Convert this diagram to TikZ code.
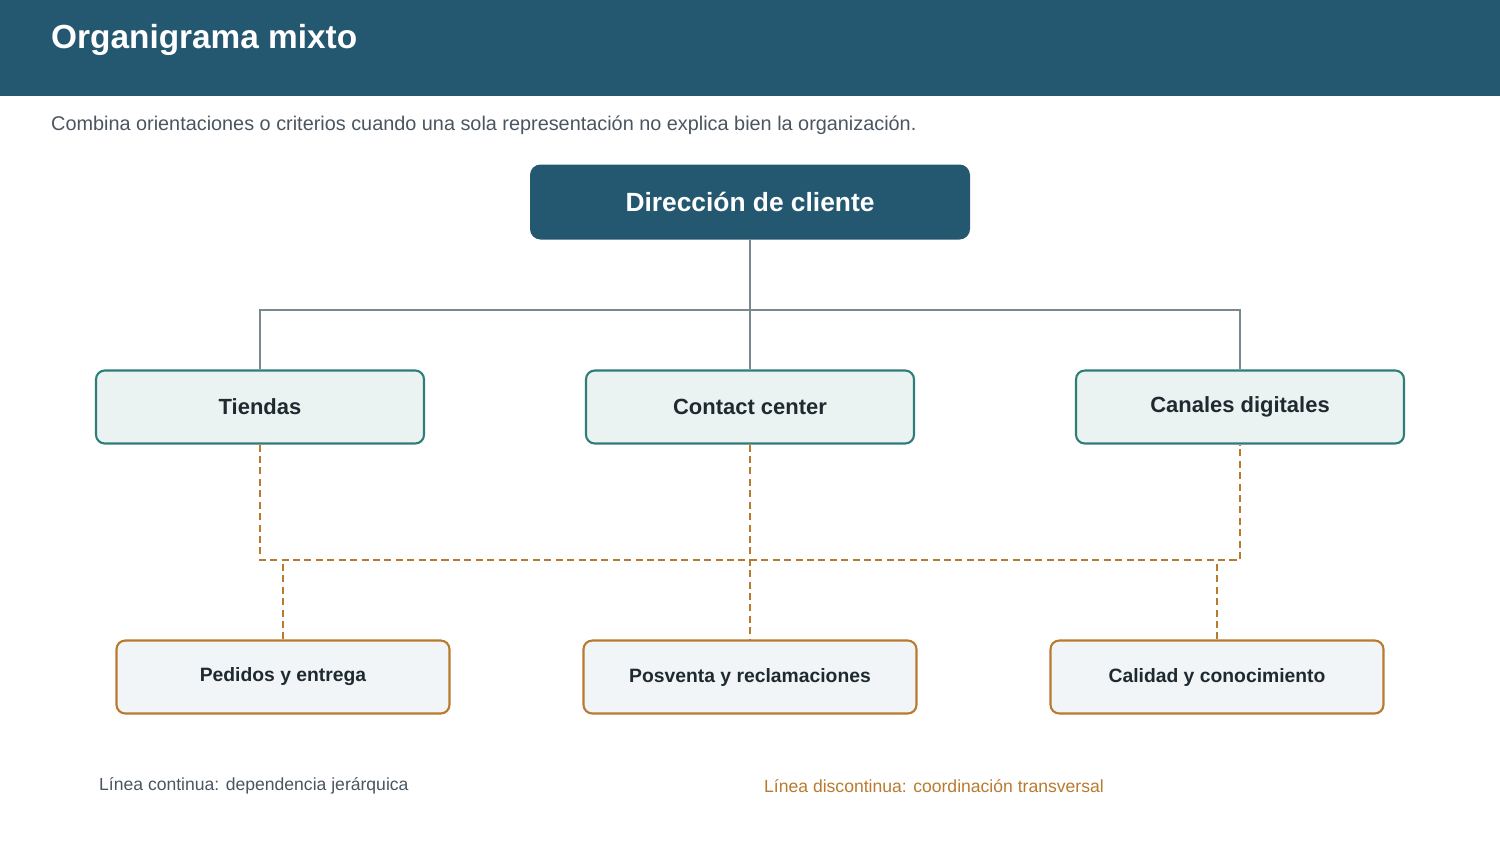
\documentclass[tikz,border=0pt]{standalone}
\usepackage{fontspec}
\setmainfont{Liberation Sans}
\usetikzlibrary{positioning}
\definecolor{headblue}{HTML}{245870}
\definecolor{unitfill}{HTML}{EAF3F1}
\definecolor{unitline}{HTML}{2E7D78}
\definecolor{taskfill}{HTML}{F2F5F7}
\definecolor{orangeline}{HTML}{B87A2E}
\definecolor{hierline}{HTML}{7A8890}
\definecolor{darktext}{HTML}{1F2A30}
\definecolor{greytext}{HTML}{4A5560}
\begin{document}
\begin{tikzpicture}
  [
    x=0.02cm, y=-0.02cm,
    unit/.style={draw=unitline, line width=1.2pt, fill=unitfill, rounded corners=5pt,
      minimum width=328*0.02cm, minimum height=73*0.02cm, text=darktext,
      font=\fontsize{12.5}{14}\selectfont\bfseries},
    task/.style={draw=orangeline, line width=1.2pt, fill=taskfill, rounded corners=5pt,
      minimum width=333*0.02cm, minimum height=73*0.02cm, text=darktext,
      font=\fontsize{11}{13}\selectfont\bfseries},
    hier/.style={draw=hierline, line width=1.2pt},
    coord/.style={draw=orangeline, line width=1.2pt, dash pattern=on 4pt off 2.5pt}
  ]
  \useasboundingbox (0,0) rectangle (1500,850);
  % header
  \fill[headblue] (0,0) rectangle (1500,96);
  \node[anchor=west, text=white, font=\fontsize{19}{22}\selectfont\bfseries] (title) at (45,40) {Organigrama mixto};
  \node[anchor=west, text=greytext, font=\fontsize{11.3}{13}\selectfont] (subtitle) at (45,125)
    {Combina orientaciones o criterios cuando una sola representación no explica bien la organización.};
  % boxes
  \node[fill=headblue, rounded corners=6pt, minimum width=440*0.02cm, minimum height=75*0.02cm,
    text=white, font=\fontsize{15}{18}\selectfont\bfseries] (dir) at (750,202) {Dirección de cliente};
  \node[unit] (tiendas) at (260,407) {Tiendas};
  \node[unit] (contact) at (750,407) {Contact center};
  \node[unit] (canales) at (1240,407) {Canales digitales};
  \node[task] (pedidos) at (283,677) {Pedidos y entrega};
  \node[task] (posventa) at (750,677) {Posventa y reclamaciones};
  \node[task] (calidad) at (1217,677) {Calidad y conocimiento};
  % hierarchy
  \coordinate (hbus) at (0,310);
  \draw[hier] (dir.south) -- (contact.north);
  \draw[hier] (tiendas.north) -- (tiendas.north |- hbus) -- (canales.north |- hbus) -- (canales.north);
  % coordination
  \coordinate (cbus) at (0,560);
  \draw[coord] (tiendas.south) -- (tiendas.south |- cbus) -- (canales.south |- cbus) -- (canales.south);
  \draw[coord] (contact.south) -- (posventa.north);
  \draw[coord] (pedidos.north) -- (pedidos.north |- cbus);
  \draw[coord] (calidad.north) -- (calidad.north |- cbus);
  % legend
  \node[anchor=west, text=greytext, font=\fontsize{10}{12}\selectfont] (leghier) at (93,786)
    {Línea continua: dependencia jerárquica};
  \node[anchor=west, text=orangeline, font=\fontsize{10}{12}\selectfont] (legcoord) at (758,786)
    {Línea discontinua: coordinación transversal};
\end{tikzpicture}
\end{document}
